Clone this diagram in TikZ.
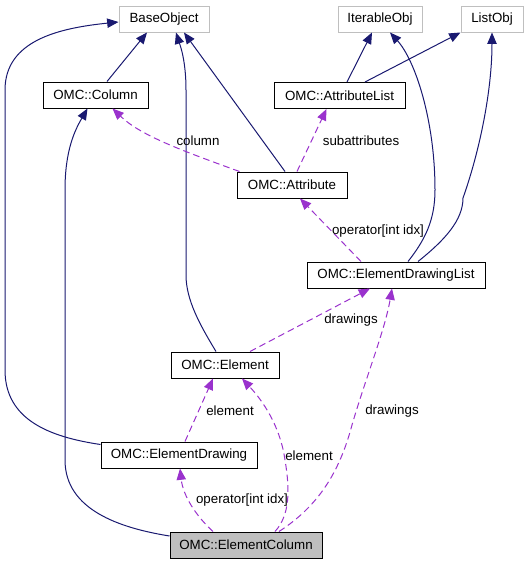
\documentclass[tikz,border=0pt]{standalone}
\usepackage{fontspec}
\setmainfont{Liberation Sans}
\usetikzlibrary{arrows.meta,calc}
\definecolor{navy}{HTML}{191970}
\definecolor{orchid}{HTML}{9A32CD}
\definecolor{extgray}{HTML}{BFBFBF}
\begin{document}
\begin{tikzpicture}[x=0.75pt,y=-0.75pt,
  box/.style={draw=black, line width=0.75pt, minimum height=19.5pt, inner sep=0pt, font=\fontsize{10}{12}\selectfont},
  ext/.style={box, draw=extgray},
  cur/.style={box, fill=extgray},
  inh/.style={draw=navy, line width=0.75pt, -{Triangle[length=8.5pt,width=7pt]}},
  usage/.style={draw=orchid, line width=0.75pt, dash pattern=on 5pt off 3pt, -{Triangle[length=8.5pt,width=7pt]}},
  lbl/.style={font=\fontsize{10}{12}\selectfont, inner sep=1pt}]
\useasboundingbox (0,0) rectangle (529,564);
% nodes
\node[ext, minimum width=67.5pt]  (base) at (164,19) {BaseObject};
\node[ext, minimum width=63pt]    (iter) at (380,19) {IterableObj};
\node[ext, minimum width=46.5pt]  (list) at (492,19) {ListObj};
\node[box, minimum width=78.75pt] (col)  at (95.5,95) {OMC::Column};
\node[box, minimum width=98.25pt] (alist) at (339.5,95.5) {OMC::AttributeList};
\node[box, minimum width=82.5pt]  (attr) at (292,185) {OMC::Attribute};
\node[box, minimum width=133.5pt] (edl)  at (396,275) {OMC::ElementDrawingList};
\node[box, minimum width=81pt]    (elem) at (225,365) {OMC::Element};
\node[box, minimum width=117pt]   (ed)   at (179,455) {OMC::ElementDrawing};
\node[cur, minimum width=114pt]   (ec)   at (246,545) {OMC::ElementColumn};
% inheritance
\draw[inh] ($(col.north)+(11.5,0)$) -- ($(base.south)+(-17,0)$);
\draw[inh] ($(elem.north)+(-9,0)$) .. controls (200,325) and (186,300) .. (186,275)
  -- (186,90) .. controls (186,60) and (180,45) .. ($(base.south)+(12,0)$);
\draw[inh] ($(attr.north)+(-7,0)$) -- ($(base.south)+(20,0)$);
\draw[inh] ($(ed.north west)+(0,3)$) .. controls (50,437) and (5,420) .. (5,370)
  -- (5,90) .. controls (5,40) and (60,28) .. ($(base.west)+(0,3)$);
\draw[inh] ($(ec.west)+(0,-9)$) .. controls (120,528) and (65,510) .. (65,460)
  -- (65,190) .. controls (65,150) and (75,130) .. ($(col.south)+(-8,0)$);
\draw[inh] ($(alist.north)+(7.5,0)$) -- ($(iter.south)+(-8,0)$);
\draw[inh] ($(alist.north)+(25.5,0)$) -- (list.south west);
\draw[inh] ($(edl.north)+(12,0)$) .. controls (425,240) and (435,220) .. (435,190)
  .. controls (435,120) and (415,60) .. ($(iter.south)+(10,0)$);
\draw[inh] ($(edl.north)+(22,0)$) .. controls (445,240) and (463,220) .. (463,198)
  .. controls (480,150) and (492,90) .. (list.south);
% usage
\draw[usage] ($(attr.north west)+(3,0)$) .. controls (180,150) and (140,135) .. ($(col.south)+(17,0)$);
\node[lbl] (l1) at (198,141) {column};
\draw[usage] ($(attr.north)+(5,0)$) -- ($(alist.south)+(-13,0)$);
\node[lbl] (l2) at (361,141) {subattributes};
\draw[usage] ($(edl.north)+(-35,0)$) -- ($(attr.south)+(8,0)$);
\node[lbl] (l3) at (378,231) {operator[int idx]};
\draw[usage] ($(elem.north)+(25,0)$) -- ($(edl.south)+(-26,0)$);
\node[lbl] (l4) at (351,320) {drawings};
\draw[usage] ($(ed.north)+(6,0)$) -- ($(elem.south)+(-12,0)$);
\node[lbl] (l5) at (230,411) {element};
\draw[usage] ($(ec.north)+(29,0)$) .. controls (290,515) and (290,490) .. (285,460)
  .. controls (280,425) and (262,400) .. ($(elem.south)+(17,0)$);
\node[lbl] (l6) at (309,456) {element};
\draw[usage] ($(ec.north)+(-33,0)$) .. controls (195,515) and (183,495) .. ($(ed.south)+(1,0)$);
\node[lbl] (l7) at (242,500) {operator[int idx]};
\draw[usage] ($(ec.north)+(33,0)$) .. controls (320,505) and (340,470) .. (352,425)
  .. controls (365,380) and (385,330) .. ($(edl.south)+(-4,0)$);
\node[lbl] (l8) at (392,411) {drawings};
\end{tikzpicture}
\end{document}
